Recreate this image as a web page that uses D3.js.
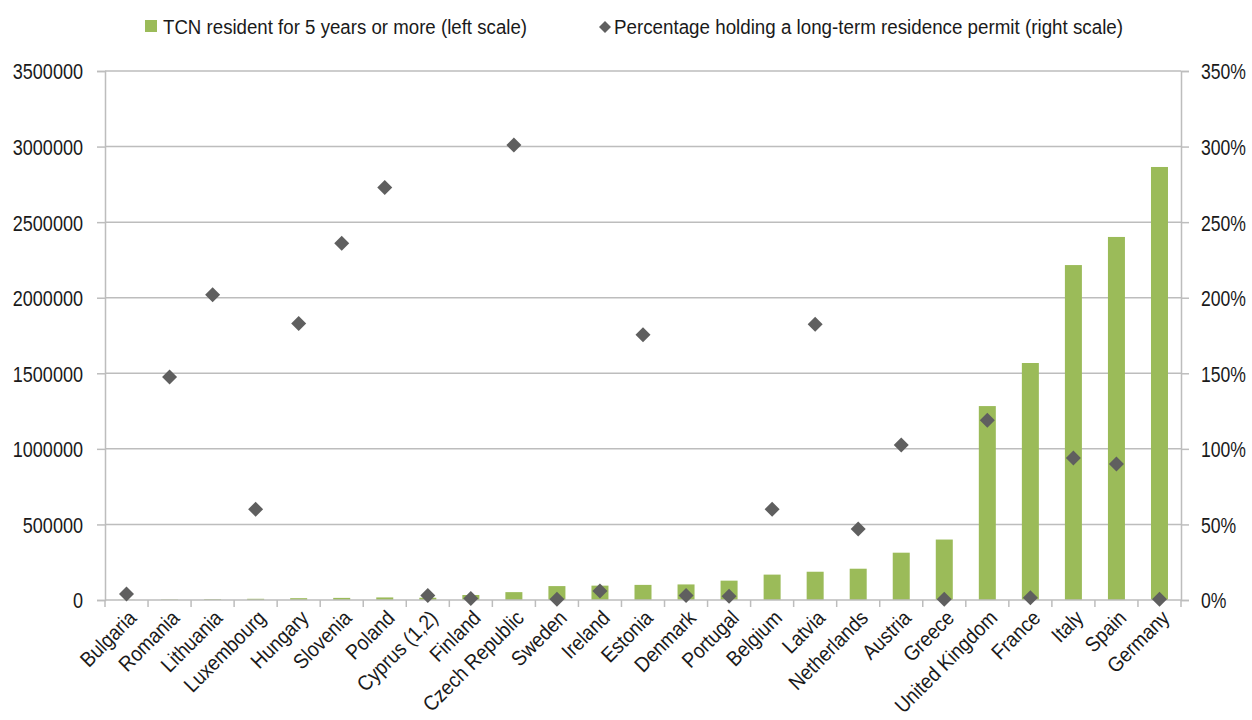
<!DOCTYPE html>
<html>
<head>
<meta charset="utf-8">
<script src="https://cdn.jsdelivr.net/npm/d3@7"></script>
<style>
  html, body { margin: 0; padding: 0; background: #fff; }
  svg text { font-family: "Liberation Sans", Arial, sans-serif; fill: #1a1a1a; }
</style>
</head>
<body>
<svg id="chart" width="1252" height="720"></svg>
<script>
// Countries, ordered by number of long-term residents
const countries = ["Bulgaria", "Romania", "Lithuania", "Luxembourg", "Hungary", "Slovenia", "Poland",
  "Cyprus (1,2)", "Finland", "Czech Republic", "Sweden", "Ireland", "Estonia", "Denmark", "Portugal",
  "Belgium", "Latvia", "Netherlands", "Austria", "Greece", "United Kingdom", "France", "Italy", "Spain", "Germany"];

// Third-country nationals resident for 5 years or more
const residents = [1000, 3000, 5000, 8000, 12000, 14000, 17000,
  15000, 33000, 52000, 92000, 95000, 100000, 103000, 128000,
  168000, 187000, 207000, 313000, 400000, 1283000, 1568000, 2216000, 2402000, 2865000];

// Share holding a long-term residence permit (%)
const permitShare = [4, 147.5, 202, 60, 183, 236, 273,
  3, 1, 301, 0.5, 6, 175.5, 3, 2.5,
  60, 182.5, 47, 102.5, 0.5, 119, 1.5, 94, 90, 0.5];

const leftTicks = [0, 500000, 1000000, 1500000, 2000000, 2500000, 3000000, 3500000];
const rightTicks = [0, 50, 100, 150, 200, 250, 300, 350];

const legendLabels = ["TCN resident for 5 years or more (left scale)",
  "Percentage holding a long-term residence permit (right scale)"];

const svg = d3.select("#chart");
const plot = { left: 105, right: 1181, top: 71, bottom: 600 };
const gridColor = "#bdbdbd";
const barColor = "#9bbb59";
const markColor = "#5f5f5f";

const xBand = d3.scaleBand().domain(countries).range([plot.left, plot.right]);
const yLeft = d3.scaleLinear().domain([0, 3500000]).range([plot.bottom, plot.top]);
const yRight = d3.scaleLinear().domain([0, 350]).range([plot.bottom, plot.top]);
const cx = d => xBand(d) + xBand.bandwidth() / 2;

// horizontal gridlines
svg.append("g").selectAll("line").data(leftTicks.slice(1)).join("line")
  .attr("x1", plot.left).attr("x2", plot.right)
  .attr("y1", d => yLeft(d)).attr("y2", d => yLeft(d))
  .attr("stroke", gridColor).attr("stroke-width", 1.5);

// bars
svg.append("g").selectAll("rect").data(countries).join("rect")
  .attr("x", d => cx(d) - 8.5)
  .attr("width", 17)
  .attr("y", (d, i) => yLeft(residents[i]))
  .attr("height", (d, i) => plot.bottom - yLeft(residents[i]))
  .attr("fill", barColor);

// axes
function styleAxis(g) {
  g.selectAll(".domain").attr("stroke", gridColor).attr("stroke-width", 1.5);
  g.selectAll(".tick line").attr("stroke", gridColor).attr("stroke-width", 1.5);
  g.selectAll("text").attr("fill", "#1a1a1a");
}

const axL = svg.append("g").attr("transform", `translate(${plot.left},0)`)
  .call(d3.axisLeft(yLeft).tickValues(leftTicks).tickFormat(d3.format("d")).tickSizeOuter(0).tickSize(8).tickPadding(14))
  .call(styleAxis);
axL.selectAll("text").style("font-size", "22px").attr("dy", "0.36em");

const axR = svg.append("g").attr("transform", `translate(${plot.right},0)`)
  .call(d3.axisRight(yRight).tickValues(rightTicks).tickFormat(d => d + "%").tickSizeOuter(0).tickSize(8).tickPadding(12))
  .call(styleAxis);
axR.selectAll("text").style("font-size", "22px").attr("dy", "0.36em");

// bottom axis with ticks between categories
const axB = svg.append("g").attr("transform", `translate(0,${plot.bottom})`);
axB.append("line").attr("x1", plot.left).attr("x2", plot.right).attr("stroke", gridColor).attr("stroke-width", 1.5);
const bounds = countries.map(c => xBand(c)).concat([plot.right]);
axB.selectAll("line.tk").data(bounds).join("line").attr("class", "tk")
  .attr("x1", d => d).attr("x2", d => d).attr("y1", 0).attr("y2", 7)
  .attr("stroke", gridColor).attr("stroke-width", 1.5);
const catLabels = axB.selectAll("text.cat").data(countries).join("text").attr("class", "cat")
  .attr("transform", d => `translate(${cx(d) + 6},14) rotate(-45)`)
  .attr("text-anchor", "end")
  .attr("dy", "0.35em")
  .style("font-size", "21px")
  .text(d => d);

// condensed look for tick labels
function condense(sel, k) {
  sel.each(function () {
    const w = this.getComputedTextLength();
    d3.select(this).attr("textLength", w * k).attr("lengthAdjust", "spacingAndGlyphs");
  });
}
condense(axL.selectAll("text"), 0.82);
condense(axR.selectAll("text"), 0.8);
condense(catLabels, 0.9);

// diamond markers
const diamond = "M0,-7.5L7.5,0L0,7.5L-7.5,0Z";
svg.append("g").selectAll("path").data(countries).join("path")
  .attr("d", diamond)
  .attr("transform", (d, i) => `translate(${cx(d)},${yRight(permitShare[i])})`)
  .attr("fill", markColor);

// legend
const lg = svg.append("g");
lg.append("rect").attr("x", 145).attr("y", 20).attr("width", 12).attr("height", 12).attr("fill", barColor);
lg.append("text").attr("x", 163).attr("y", 34).style("font-size", "20px").text(legendLabels[0])
  .attr("textLength", 364).attr("lengthAdjust", "spacingAndGlyphs");
lg.append("path").attr("d", "M0,-6L6,0L0,6L-6,0Z").attr("transform", "translate(605,27)").attr("fill", markColor);
lg.append("text").attr("x", 614).attr("y", 34).style("font-size", "20px").text(legendLabels[1])
  .attr("textLength", 509).attr("lengthAdjust", "spacingAndGlyphs");
</script>
</body>
</html>
